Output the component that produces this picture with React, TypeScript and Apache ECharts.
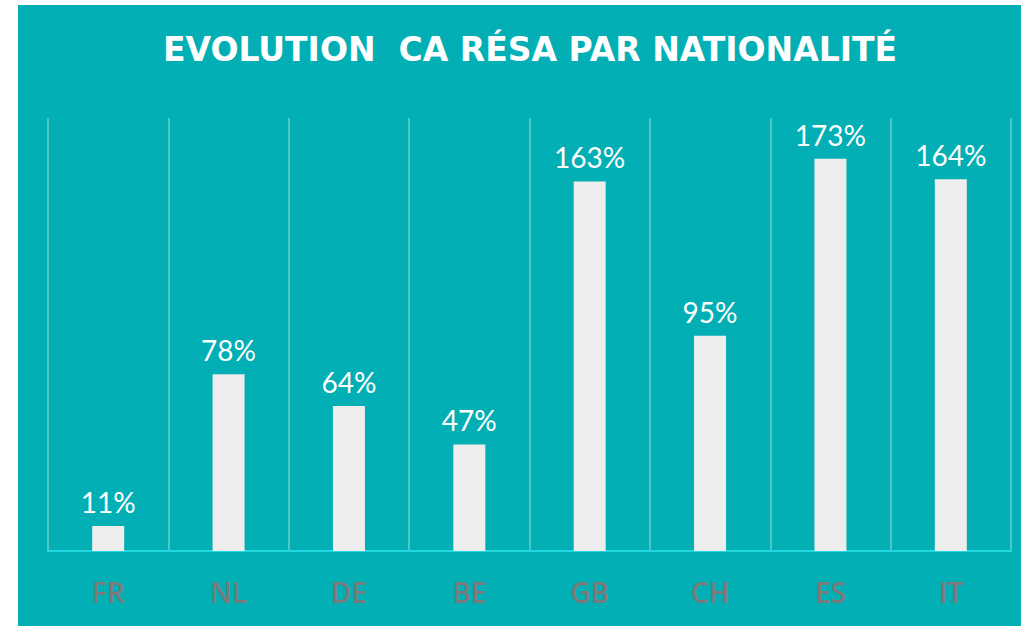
import React, { useEffect, useRef } from "react";
import * as echarts from "echarts";

const categories = ["FR", "NL", "DE", "BE", "GB", "CH", "ES", "IT"];
const values = [11, 78, 64, 47, 163, 95, 173, 164];
const titleText = "EVOLUTION  CA RÉSA PAR NATIONALITÉ";

export default function App() {
  const ref = useRef<HTMLDivElement>(null);
  useEffect(() => {
    document.body.style.margin = "0";
    const chart = echarts.init(ref.current!, null, { renderer: "svg" });
    chart.setOption({
      animation: false,
      backgroundColor: "#ffffff",
      graphic: [
        {
          type: "rect",
          shape: { x: 18, y: 5, width: 1003, height: 621 },
          style: { fill: "#02AFB4" },
          z: -10,
          silent: true,
        },
      ],
      title: {
        text: titleText,
        left: 525,
        top: 28,
        textAlign: "center",
        textStyle: {
          color: "#ffffff",
          fontFamily: "DejaVu Sans",
          fontWeight: "bold",
          fontSize: 33,
        },
      },
      grid: { left: 48, right: 12, top: 118, bottom: 75, containLabel: false },
      xAxis: {
        type: "category",
        data: categories,
        boundaryGap: true,
        axisLine: { show: true, lineStyle: { color: "#22D8E0", width: 2 } },
        axisTick: { show: false },
        splitLine: { show: true, lineStyle: { color: "#4FC6CA", width: 2 } },
        axisLabel: {
          color: "#7A7A7A",
          fontFamily: "Open Sans",
          fontWeight: 600,
          fontSize: 28,
          margin: 27,
        },
      },
      yAxis: {
        type: "value",
        min: 0,
        max: 191,
        show: false,
        splitLine: { show: false },
      },
      series: [
        {
          type: "bar",
          data: values,
          barWidth: 32,
          itemStyle: { color: "#EDEDED" },
          label: {
            show: true,
            position: "top",
            distance: 10,
            formatter: "{c}%",
            color: "#ffffff",
            fontFamily: "Lato",
            fontSize: 28,
          },
        },
      ],
    });
    return () => chart.dispose();
  }, []);
  return (
    <div
      ref={ref}
      style={{ position: "absolute", left: 0, top: 0, width: 1023, height: 626 }}
    />
  );
}
